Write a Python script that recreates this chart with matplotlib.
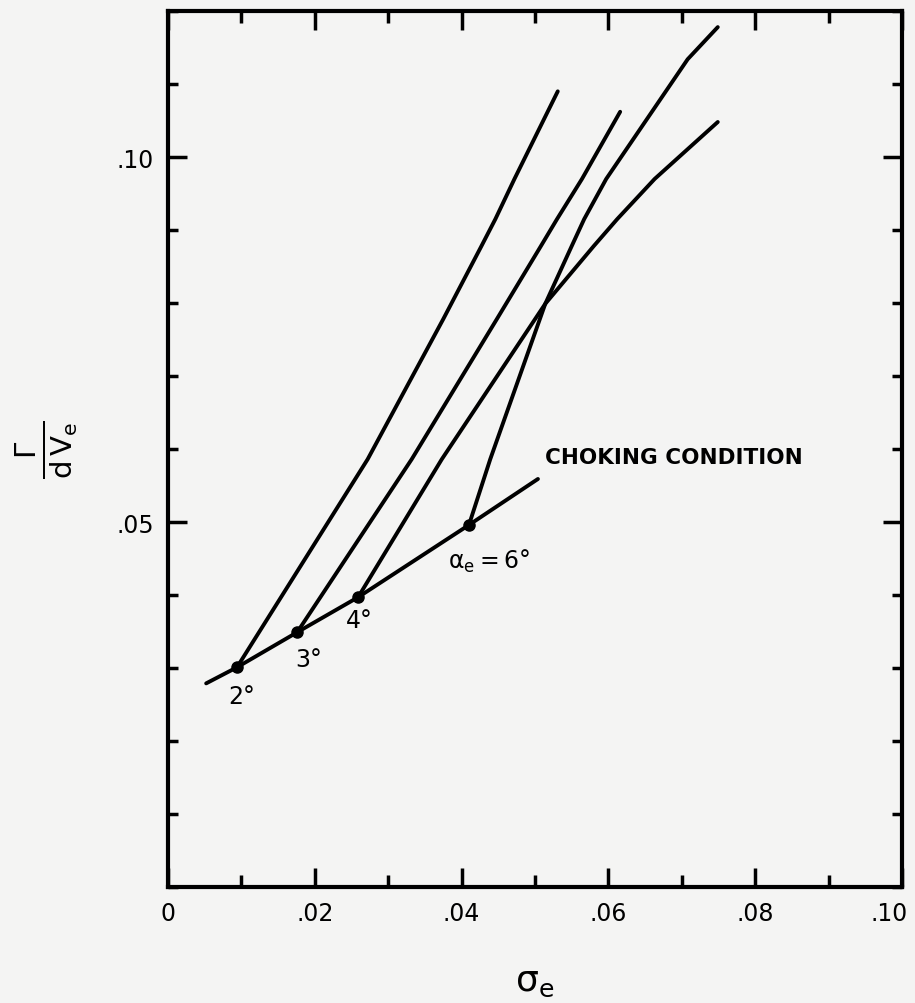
import numpy as np
import matplotlib.pyplot as plt
from matplotlib.ticker import MultipleLocator
from matplotlib.transforms import ScaledTranslation

# Choking condition line (sigma_e, Gamma/dVe)
choke_x = [0.0052, 0.0094, 0.0176, 0.0259, 0.0410, 0.0504]
choke_y = [0.0279, 0.0301, 0.0349, 0.0397, 0.0496, 0.0559]

# Curves for each alpha_e
curve_2_x = [0.0094, 0.0272, 0.0375, 0.0427, 0.0446, 0.0472, 0.0531]
curve_2_y = [0.0301, 0.0586, 0.0778, 0.0878, 0.0915, 0.0970, 0.1090]
curve_3_x = [0.0176, 0.0332, 0.0448, 0.0508, 0.0530, 0.0564, 0.0616]
curve_3_y = [0.0349, 0.0586, 0.0778, 0.0878, 0.0915, 0.0970, 0.1062]
curve_4_x = [0.0259, 0.0373, 0.0514, 0.0580, 0.0612, 0.0663, 0.0749]
curve_4_y = [0.0397, 0.0586, 0.0799, 0.0878, 0.0915, 0.0970, 0.1048]
curve_6_x = [0.0410, 0.0439, 0.0514, 0.0550, 0.0567, 0.0597, 0.0708, 0.0749]
curve_6_y = [0.0496, 0.0586, 0.0799, 0.0878, 0.0915, 0.0970, 0.1134, 0.1178]

# Marked points on the choking line
dot_x = [0.0094, 0.0176, 0.0259, 0.0410]
dot_y = [0.0301, 0.0349, 0.0397, 0.0496]
dot_labels = ["2°", "3°", "4°", r"$\alpha_e = 6°$"]
label_x = [0.0101, 0.0192, 0.0260, 0.0437]
label_y = [0.0262, 0.0312, 0.0366, 0.0447]

xticks = [0, 0.02, 0.04, 0.06, 0.08, 0.10]
xtick_labels = ["0", ".02", ".04", ".06", ".08", ".10"]
yticks = [0.05, 0.10]
ytick_labels = [".05", ".10"]

if __name__ == "__main__":
    plt.rcParams["mathtext.default"] = "regular"
    bg = "#f4f4f3"
    lw = 2.8
    fig = plt.figure(figsize=(9.15, 10.04), dpi=100, facecolor=bg)
    ax = fig.add_axes([0.1836, 0.1155, 0.8022, 0.8725], facecolor=bg)

    ax.plot(choke_x, choke_y, "k-", lw=lw, solid_capstyle="round")
    for cx, cy in [(curve_2_x, curve_2_y), (curve_3_x, curve_3_y),
                   (curve_4_x, curve_4_y), (curve_6_x, curve_6_y)]:
        ax.plot(cx, cy, "k-", lw=lw, solid_capstyle="round", solid_joinstyle="round")
    ax.plot(dot_x, dot_y, "ko", ms=8)

    for lx, ly, txt in zip(label_x, label_y, dot_labels):
        ax.text(lx, ly, txt, fontsize=17, ha="center", va="center")
    ax.text(0.0514, 0.0589, "CHOKING CONDITION", fontsize=15.5, fontweight="bold",
            ha="left", va="center")

    ax.set_xlim(0, 0.10)
    ax.set_ylim(0, 0.12)
    ax.set_xticks(xticks)
    ax.set_xticklabels(xtick_labels)
    ax.set_yticks(yticks)
    ax.set_yticklabels(ytick_labels)
    ax.xaxis.set_minor_locator(MultipleLocator(0.01))
    ax.yaxis.set_minor_locator(MultipleLocator(0.01))
    ax.tick_params(which="both", direction="in", top=True, right=True,
                   width=2.5, labelsize=17, color="k")
    ax.tick_params(which="major", length=14, pad=10)
    ax.tick_params(axis="x", which="minor", length=8.5)
    ax.tick_params(axis="y", which="minor", length=7)
    for s in ax.spines.values():
        s.set_linewidth(3)

    # last x label sits a little inside the frame edge
    last = ax.get_xticklabels()[-1]
    last.set_transform(last.get_transform() + ScaledTranslation(-9 / 72, 0, fig.dpi_scale_trans))

    ax.set_xlabel(r"$\sigma_e$", fontsize=26, labelpad=28)
    fig.text(0.051, 0.552, r"$\frac{\Gamma}{d\,V_e}$", fontsize=30, rotation=90,
             ha="center", va="center")

    plt.savefig("out.png", dpi=100, facecolor=bg)
